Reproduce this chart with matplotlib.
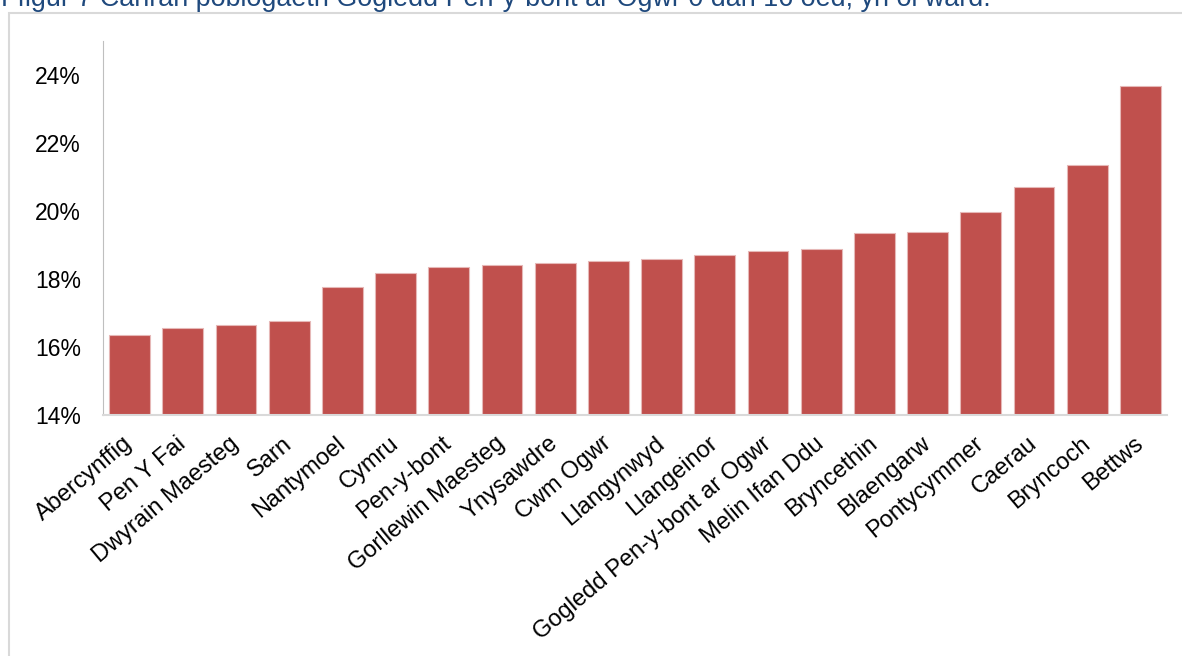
import matplotlib
matplotlib.use("Agg")
import matplotlib.pyplot as plt
from matplotlib.patches import Rectangle
from matplotlib.ticker import FuncFormatter

plt.rcParams['font.family'] = ['Liberation Sans', 'DejaVu Sans']

title = "Ffigur 7 Canran poblogaeth Gogledd Pen-y-bont ar Ogwr 0 dan 16 oed, yn ôl ward."
wards = ["Abercynffig", "Pen Y Fai", "Dwyrain Maesteg", "Sarn", "Nantymoel", "Cymru",
         "Pen-y-bont", "Gorllewin Maesteg", "Ynysawdre", "Cwm Ogwr", "Llangynwyd",
         "Llangeinor", "Gogledd Pen-y-bont ar Ogwr", "Melin Ifan Ddu", "Bryncethin",
         "Blaengarw", "Pontycymmer", "Caerau", "Bryncoch", "Bettws"]
values = [16.33, 16.55, 16.64, 16.75, 17.76, 18.17, 18.35, 18.40, 18.46, 18.53, 18.57,
          18.69, 18.81, 18.87, 19.36, 19.38, 19.97, 20.69, 21.36, 23.68]
y_ticks = [14, 16, 18, 20, 22, 24]

W, H = 1182, 656
fig = plt.figure(figsize=(W / 100, H / 100), dpi=100)

# outer chart frame (clipped by the figure edges)
fig.patches.append(Rectangle((8.5 / W, -0.1), 1.2, (1 - 12.5 / H) + 0.1,
                             transform=fig.transFigure, fill=False,
                             edgecolor='#D9D9D9', linewidth=1.5))

fig.text(1 / W, 1 - 6 / H, title, color='#1F497D', fontsize=19.4,
         ha='left', va='baseline')

ax = fig.add_axes([103 / W, 1 - 414.5 / H, (1167 - 103) / W, (414.5 - 41) / H])
x = range(len(wards))
ax.bar(x, values, width=0.77, color='#C0504D', edgecolor='#E6B8B7', linewidth=0.8)
ax.set_xlim(-0.5, len(wards) - 0.5)
ax.set_ylim(14, 25)
ax.set_yticks(y_ticks)
ax.yaxis.set_major_formatter(FuncFormatter(lambda v, p: f"{v:.0f}%"))
ax.tick_params(axis='y', length=0, pad=16, labelsize=16.5, colors='black')
ax.set_xticks(list(x))
ax.set_xticklabels(wards, rotation=40, ha='right', va='center', rotation_mode='anchor',
                   fontsize=17)
ax.tick_params(axis='x', length=0, pad=19)
for s in ['top', 'right']:
    ax.spines[s].set_visible(False)
ax.spines['left'].set_color('#BFBFBF')
ax.spines['bottom'].set_color('#D9D9D9')
ax.spines['bottom'].set_linewidth(1.5)
ax.set_facecolor('white')

fig.savefig("out.png", dpi=100)
